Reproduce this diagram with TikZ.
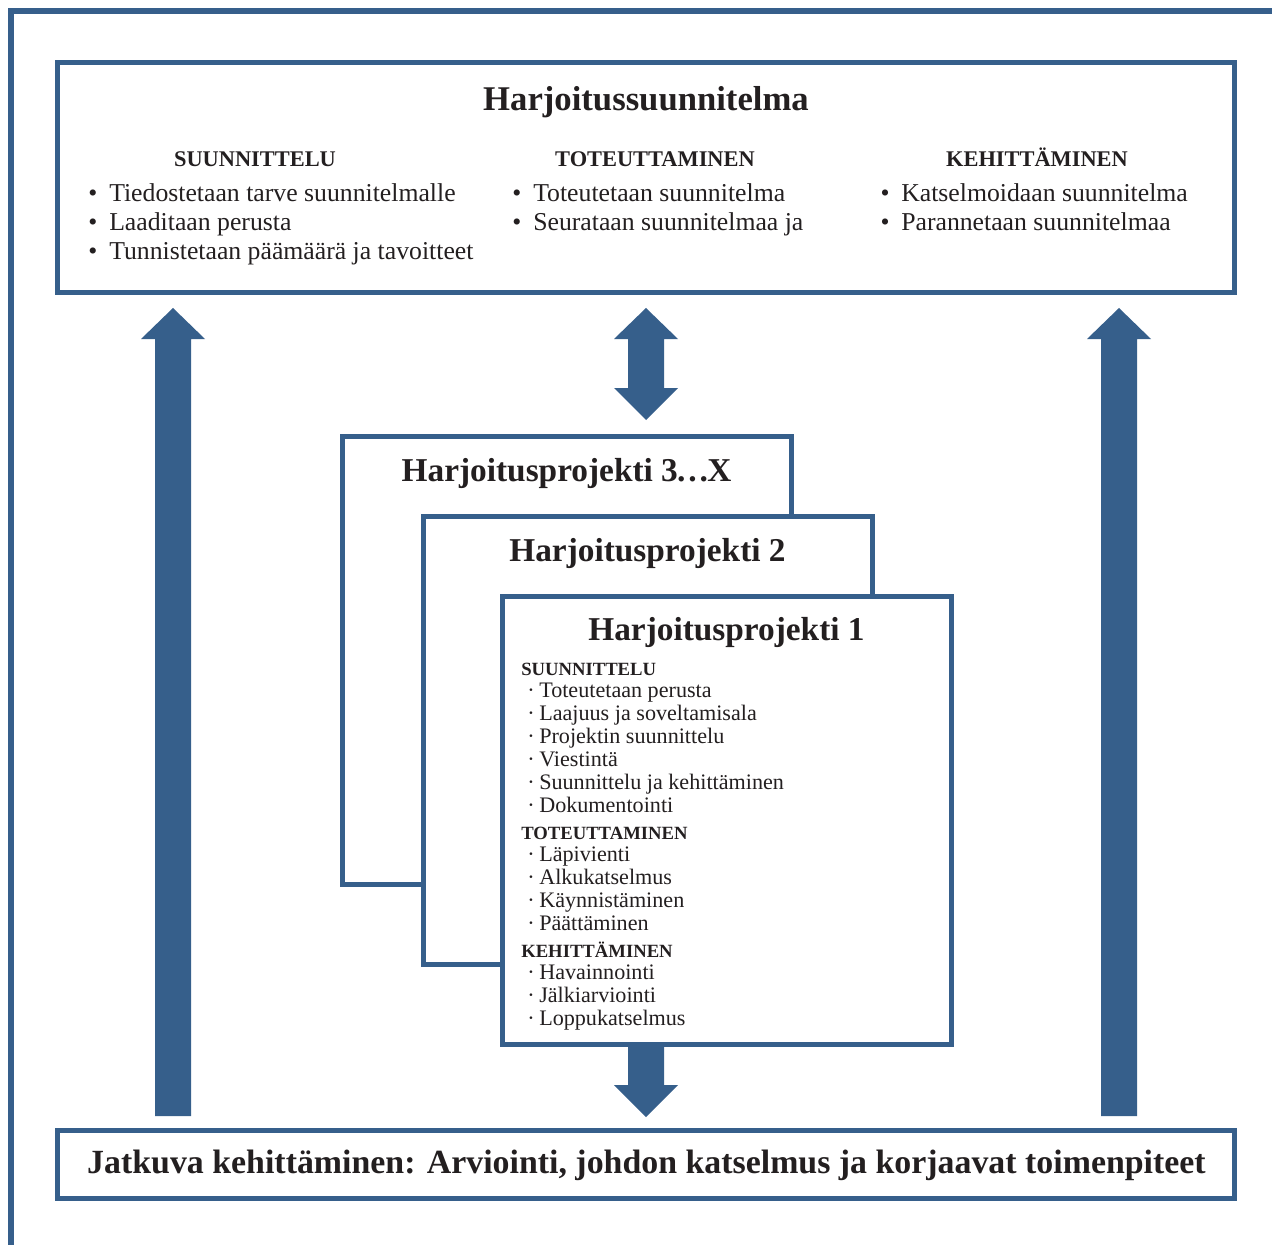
\documentclass[tikz,border=0pt]{standalone}
\usepackage{fontspec}
\setmainfont{Liberation Serif}
\usetikzlibrary{calc,fit}
\definecolor{frameblue}{RGB}{54,95,139}
\definecolor{inkc}{RGB}{35,31,32}

\tikzset{
  box/.style={draw=frameblue, line width=3.75pt, inner sep=0pt},
  panel/.style={box, fill=white},
  txt/.style={inner sep=0pt, text=inkc, anchor=base},
  txtw/.style={txt, anchor=base west},
  bigtitle/.style={txt, font=\fontsize{26}{30}\selectfont\bfseries},
  colhead/.style={txt, font=\fontsize{16.8}{20}\selectfont\bfseries},
  bul/.style={txtw, font=\fontsize{19.3}{23}\selectfont},
  buldot/.style={txt, font=\fontsize{19.3}{23}\selectfont},
  projtitle/.style={txt, font=\fontsize{25}{30}\selectfont\bfseries},
  subhead/.style={txtw, font=\fontsize{14}{16}\selectfont\bfseries},
  item/.style={txtw, font=\fontsize{16.6}{20}\selectfont},
  itemdot/.style={txt, font=\fontsize{16.6}{20}\selectfont},
  blockfill/.style={fill=frameblue},
}

% block arrows: shaft half width 18, head half width 32, head length 31
\newcommand\uparrowblock[2]{%
  \fill[blockfill] ($(#1)+(-18,0)$) -- ($(#2)+(-18,31)$) -- ($(#2)+(-32,31)$) -- (#2)
    -- ($(#2)+(32,31)$) -- ($(#2)+(18,31)$) -- ($(#1)+(18,0)$) -- cycle;}
\newcommand\downarrowblock[2]{%
  \fill[blockfill] ($(#1)+(-18,0)$) -- ($(#2)+(-18,-32)$) -- ($(#2)+(-32,-32)$) -- (#2)
    -- ($(#2)+(32,-32)$) -- ($(#2)+(18,-32)$) -- ($(#1)+(18,0)$) -- cycle;}
\newcommand\twowayblock[2]{%
  \fill[blockfill] (#1) -- ($(#1)+(32,31)$) -- ($(#1)+(18,31)$) -- ($(#2)+(18,-32)$)
    -- ($(#2)+(32,-32)$) -- (#2) -- ($(#2)+(-32,-32)$) -- ($(#2)+(-18,-32)$)
    -- ($(#1)+(-18,31)$) -- ($(#1)+(-32,31)$) -- cycle;}

\begin{document}
\begin{tikzpicture}[x=0.75pt,y=-0.75pt]
\useasboundingbox (0,0) rectangle (1272,1245);

% frame along the left and top edges
\coordinate (fbl) at (11,1260);
\coordinate (ftl) at (11,11);
\coordinate (ftr) at (1285,11);
\draw[frameblue, line width=4pt] (fbl) -- (ftl) -- (ftr);

% arrow end points
\coordinate (la-t) at (173,1116);  \coordinate (la-h) at (173,308);
\coordinate (ra-t) at (1119,1116); \coordinate (ra-h) at (1119,308);
\coordinate (ma-a) at (646,308);   \coordinate (ma-b) at (646,420);
\coordinate (da-t) at (646,1040);  \coordinate (da-h) at (646,1117);

\uparrowblock{la-t}{la-h}
\uparrowblock{ra-t}{ra-h}
\twowayblock{ma-a}{ma-b}
\downarrowblock{da-t}{da-h}

% main plan box
\node[box, fit={(57.5,62.5) (1234.5,292.5)}] (plan) {};
\node[bigtitle] (plantitle) at (646,111) {Harjoitussuunnitelma};

\node[colhead] (h1) at (255,166.7) {SUUNNITTELU};
\node[colhead] (h2) at (655,166.7) {TOTEUTTAMINEN};
\node[colhead] (h3) at (1037,166.7) {KEHITTÄMINEN};

\foreach \t/\y [count=\i] in {Tiedostetaan tarve suunnitelmalle/202,
                              Laaditaan perusta/231,
                              Tunnistetaan päämäärä ja tavoitteet/259.5}{
  \node[buldot] (ad\i) at (93,\y) {\textbullet};
  \node[bul] (at\i) at (109,\y) {\t};
}
\foreach \t/\y [count=\i] in {Toteutetaan suunnitelma/202,
                              Seurataan suunnitelmaa ja/231}{
  \node[buldot] (bd\i) at (517,\y) {\textbullet};
  \node[bul] (bt\i) at (533,\y) {\t};
}
\foreach \t/\y [count=\i] in {Katselmoidaan suunnitelma/202,
                              Parannetaan suunnitelmaa/231}{
  \node[buldot] (cd\i) at (885,\y) {\textbullet};
  \node[bul] (ct\i) at (901,\y) {\t};
}

% stacked project sheets
\node[panel, fit={(342.5,436) (791,884)}] (p3) {};
\node[projtitle] (p3title) at (566.5,481.5) {Harjoitusprojekti 3\kern-0.06em…\kern-0.06em X};
\node[panel, fit={(423,516) (872,964)}] (p2) {};
\node[projtitle] (p2title) at (647.5,561.5) {Harjoitusprojekti 2};
\node[panel, fit={(502,596) (951,1044)}] (p1) {};
\node[projtitle] (p1title) at (726.5,640) {Harjoitusprojekti 1};

\node[subhead] (s1) at (521,675) {SUUNNITTELU};
\node[subhead] (s2) at (521,839) {TOTEUTTAMINEN};
\node[subhead] (s3) at (521,957) {KEHITTÄMINEN};

\foreach \t/\y [count=\i] in {Toteutetaan perusta/697,
                              Laajuus ja soveltamisala/720,
                              Projektin suunnittelu/743,
                              Viestintä/766,
                              Suunnittelu ja kehittäminen/789,
                              Dokumentointi/812,
                              Läpivienti/861,
                              Alkukatselmus/884,
                              Käynnistäminen/907,
                              Päättäminen/930,
                              Havainnointi/979,
                              Jälkiarviointi/1002,
                              Loppukatselmus/1025}{
  \node[itemdot] (pd\i) at (531,\y) {·};
  \node[item] (pt\i) at (539,\y) {\t};
}

% continuous improvement box
\node[box, fit={(57.5,1130) (1234.5,1198)}] (cont) {};
\node[bigtitle, font=\fontsize{25.4}{30}\selectfont\bfseries] (conttext) at (646.5,1173)
  {Jatkuva kehittäminen: Arviointi, johdon katselmus ja korjaavat toimenpiteet};
\end{tikzpicture}
\end{document}
